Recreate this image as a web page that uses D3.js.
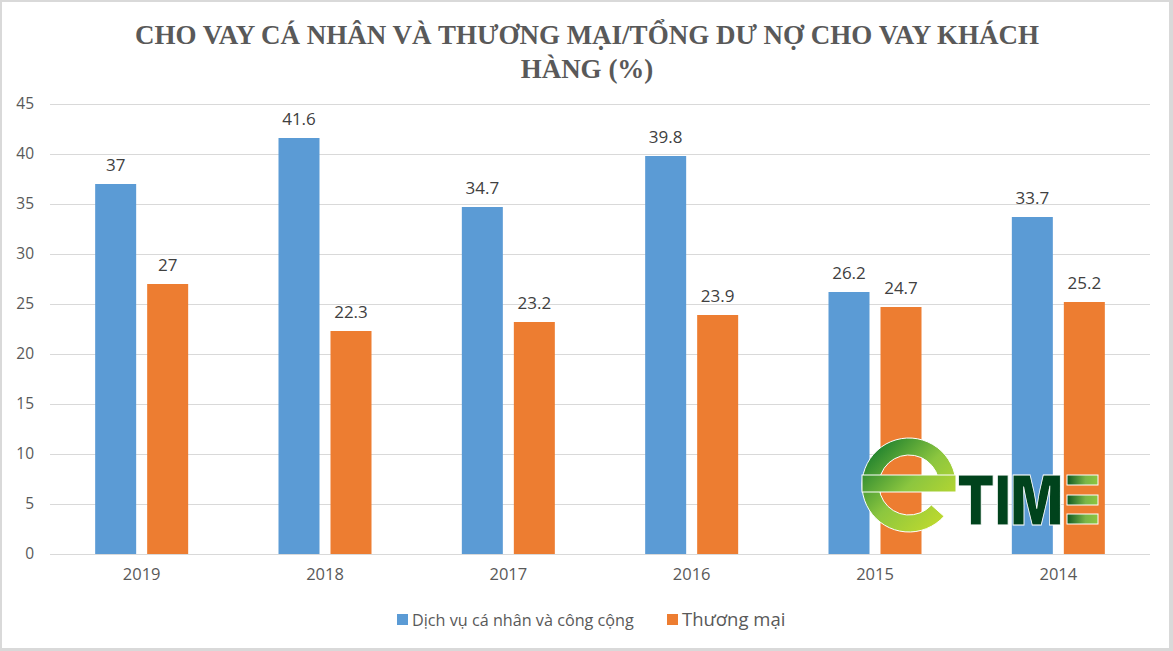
<!DOCTYPE html>
<html lang="vi">
<head>
    <meta charset="UTF-8">
    <title>Cho vay cá nhân và thương mại</title>
    <script src="https://cdnjs.cloudflare.com/ajax/libs/d3/7.8.5/d3.min.js"></script>
    <style>
        body { margin: 0; background: #fff; }
        svg { display: block; }
    </style>
</head>
<body>
    <div id="chart"></div>

    <script>
        // Data
        const years = ["2019", "2018", "2017", "2016", "2015", "2014"];
        const seriesNames = ["Dịch vụ cá nhân và công cộng", "Thương mại"];
        const dichVu = [37, 41.6, 34.7, 39.8, 26.2, 33.7];
        const thuongMai = [27, 22.3, 23.2, 23.9, 24.7, 25.2];
        const yTicks = [0, 5, 10, 15, 20, 25, 30, 35, 40, 45];
        const colors = ["#5b9bd5", "#ed7d31"];

        const W = 1173, H = 651;
        const plot = {left: 50, right: 1150, top: 104, bottom: 554};
        const sans = "'Open Sans', 'DejaVu Sans', sans-serif";

        const svg = d3.select("#chart").append("svg")
            .attr("width", W)
            .attr("height", H);

        // frame
        svg.append("rect").attr("width", W).attr("height", H).attr("fill", "#d9d9d9");
        svg.append("rect").attr("x", 2).attr("y", 2)
            .attr("width", 1167).attr("height", 646).attr("fill", "#fff");

        // title
        const title = svg.append("text")
            .attr("text-anchor", "middle")
            .attr("font-family", "'Liberation Serif', 'Times New Roman', serif")
            .attr("font-weight", 700)
            .attr("font-size", 27)
            .attr("fill", "#595959");
        title.append("tspan").attr("x", 587).attr("y", 44)
            .text("CHO VAY CÁ NHÂN VÀ THƯƠNG MẠI/TỔNG DƯ NỢ CHO VAY KHÁCH");
        title.append("tspan").attr("x", 587).attr("y", 78)
            .text("HÀNG (%)");

        // scales
        const y = d3.scaleLinear().domain([0, 45]).range([plot.bottom, plot.top]);
        const x0 = d3.scaleBand().domain(years).range([plot.left, plot.right]);
        const groupW = 93;
        const groupOff = (x0.bandwidth() - groupW) / 2;
        const x1 = d3.scaleBand().domain(seriesNames)
            .range([groupOff, groupOff + groupW])
            .paddingInner(11 / 52);

        // gridlines
        svg.append("g")
            .selectAll("line")
            .data(yTicks)
            .join("line")
            .attr("x1", plot.left).attr("x2", plot.right)
            .attr("y1", d => y(d) + 0.5).attr("y2", d => y(d) + 0.5)
            .attr("stroke", "#d9d9d9")
            .attr("stroke-width", 1);

        // y axis labels
        const yAxis = svg.append("g")
            .attr("transform", `translate(${plot.left},0)`)
            .call(d3.axisLeft(y).tickValues(yTicks).tickSize(0).tickPadding(16));
        yAxis.select(".domain").remove();
        yAxis.selectAll("text")
            .attr("font-family", sans)
            .attr("font-size", 15.5)
            .attr("fill", "#595959");

        // x axis labels
        const xAxis = svg.append("g")
            .attr("transform", `translate(0,${plot.bottom})`)
            .call(d3.axisBottom(x0).tickSize(0).tickPadding(14));
        xAxis.select(".domain").remove();
        xAxis.selectAll("text")
            .attr("font-family", sans)
            .attr("font-size", 16.5)
            .attr("fill", "#595959");

        // bars
        const rows = years.map((yr, i) => ({
            year: yr,
            values: [
                {name: seriesNames[0], v: dichVu[i], c: colors[0]},
                {name: seriesNames[1], v: thuongMai[i], c: colors[1]}
            ]
        }));

        const groups = svg.append("g")
            .selectAll("g")
            .data(rows)
            .join("g")
            .attr("transform", d => `translate(${x0(d.year)},0)`);

        groups.selectAll("rect")
            .data(d => d.values)
            .join("rect")
            .attr("x", d => x1(d.name))
            .attr("y", d => y(d.v))
            .attr("width", x1.bandwidth())
            .attr("height", d => y(0) - y(d.v))
            .attr("fill", d => d.c);

        groups.selectAll("text")
            .data(d => d.values)
            .join("text")
            .attr("x", d => x1(d.name) + x1.bandwidth() / 2)
            .attr("y", d => y(d.v) - 13)
            .attr("text-anchor", "middle")
            .attr("font-family", sans)
            .attr("font-size", 17)
            .attr("fill", "#404040")
            .text(d => d.v);

        // legend
        const legend = svg.append("g")
            .attr("font-family", sans)
            .attr("fill", "#595959");
        const legendX = [397, 667];
        const legendSize = [16.2, 18.5];
        seriesNames.forEach((name, i) => {
            legend.append("rect")
                .attr("x", legendX[i]).attr("y", 614)
                .attr("width", 11).attr("height", 11)
                .attr("fill", colors[i]);
            legend.append("text")
                .attr("x", legendX[i] + 15).attr("y", 626)
                .attr("font-size", legendSize[i])
                .text(name);
        });

        // eTIME watermark
        const defs = svg.append("defs");
        const gE = defs.append("linearGradient").attr("id", "gE")
            .attr("gradientUnits", "userSpaceOnUse")
            .attr("x1", -40).attr("y1", -40).attr("x2", 40).attr("y2", 40);
        gE.append("stop").attr("offset", "0%").attr("stop-color", "#137a2c");
        gE.append("stop").attr("offset", "50%").attr("stop-color", "#8cc63f");
        gE.append("stop").attr("offset", "100%").attr("stop-color", "#c5dc2c");
        const gBar = defs.append("linearGradient").attr("id", "gBar")
            .attr("x1", "0%").attr("y1", "0%").attr("x2", "100%").attr("y2", "0%");
        gBar.append("stop").attr("offset", "0%").attr("stop-color", "#0f5a22");
        gBar.append("stop").attr("offset", "60%").attr("stop-color", "#7ab648");
        gBar.append("stop").attr("offset", "100%").attr("stop-color", "#8cc63f");

        const logo = svg.append("g").attr("transform", "translate(909,485)");
        logo.append("path")
            .attr("d", d3.arc().innerRadius(30).outerRadius(47)
                .startAngle(2.3 - 2 * Math.PI).endAngle(Math.PI / 2)())
            .attr("fill", "url(#gE)")
            .attr("stroke", "#fff").attr("stroke-width", 1);
        logo.append("rect")
            .attr("x", -47).attr("y", -10).attr("width", 94).attr("height", 17)
            .attr("fill", "url(#gE)")
            .attr("stroke", "#fff").attr("stroke-width", 1);
        logo.append("text")
            .attr("x", 48).attr("y", 40)
            .attr("font-family", "Inter, 'DejaVu Sans', sans-serif")
            .attr("font-weight", 900)
            .attr("font-size", 69)
            .attr("textLength", 106)
            .attr("lengthAdjust", "spacingAndGlyphs")
            .attr("fill", "#00431c")
            .attr("stroke", "#fff").attr("stroke-width", 1)
            .text("TIM");
        [-10, 10, 29].forEach(dy => {
            logo.append("rect")
                .attr("x", 158).attr("y", dy).attr("width", 31).attr("height", 10)
                .attr("fill", "url(#gBar)")
                .attr("stroke", "#fff").attr("stroke-width", 1);
        });
    </script>
</body>
</html>
